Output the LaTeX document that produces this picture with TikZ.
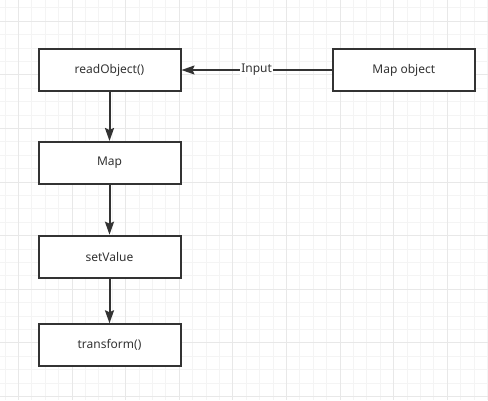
\documentclass[tikz,border=0pt]{standalone}
\usepackage{fontspec}
\setmainfont{Noto Sans}
\usetikzlibrary{arrows.meta,positioning}

\definecolor{minorgrid}{HTML}{F4F4F4}
\definecolor{majorgrid}{HTML}{E8E8E8}
\definecolor{linegray}{HTML}{333333}

\tikzset{
  blockbox/.style={draw=linegray, line width=2pt, fill=white, minimum width=142pt, minimum height=42pt, inner sep=0pt, font=\fontsize{12}{14}\selectfont, text=linegray},
  flowarrow/.style={draw=linegray, line width=2pt, -{Stealth[length=13pt,width=9pt,inset=2pt]}},
}

\begin{document}
\begin{tikzpicture}[x=1pt, y=-1pt]
        \useasboundingbox (0,0) rectangle (488,400);
        % grid
        \foreach \i in {0,...,36} {
            \draw[minorgrid, line width=1pt] ({5+13.4*\i},0) -- ({5+13.4*\i},400);
        }
        \foreach \i in {0,...,29} {
            \draw[minorgrid, line width=1pt] (0,{7.9+13.4*\i}) -- (488,{7.9+13.4*\i});
        }
        \foreach \i in {0,...,8} {
            \draw[majorgrid, line width=1pt] ({18.4+53.6*\i},0) -- ({18.4+53.6*\i},400);
        }
        \foreach \i in {0,...,7} {
            \draw[majorgrid, line width=1pt] (0,{21.3+53.6*\i}) -- (488,{21.3+53.6*\i});
        }

        % boxes
        \node[blockbox] (readobj) at (109.5,70) {readObject()};
        \node[blockbox] (map) at (109.5,163) {Map};
        \node[blockbox] (setval) at (109.5,256.7) {setValue};
        \node[blockbox] (transf) at (109.5,345.3) {transform()};
        \node[blockbox] (mapobj) at (403.8,70) {Map object};

        % arrows
        \draw[flowarrow] (readobj) -- (map);
        \draw[flowarrow] (map) -- (setval);
        \draw[flowarrow] (setval) -- (transf);
        \draw[flowarrow, line width=1.5pt] (mapobj) -- node[fill=white, inner sep=1pt, font=\fontsize{12}{14}\selectfont, text=linegray] (inputlbl) {Input} (readobj);
\end{tikzpicture}
\end{document}
